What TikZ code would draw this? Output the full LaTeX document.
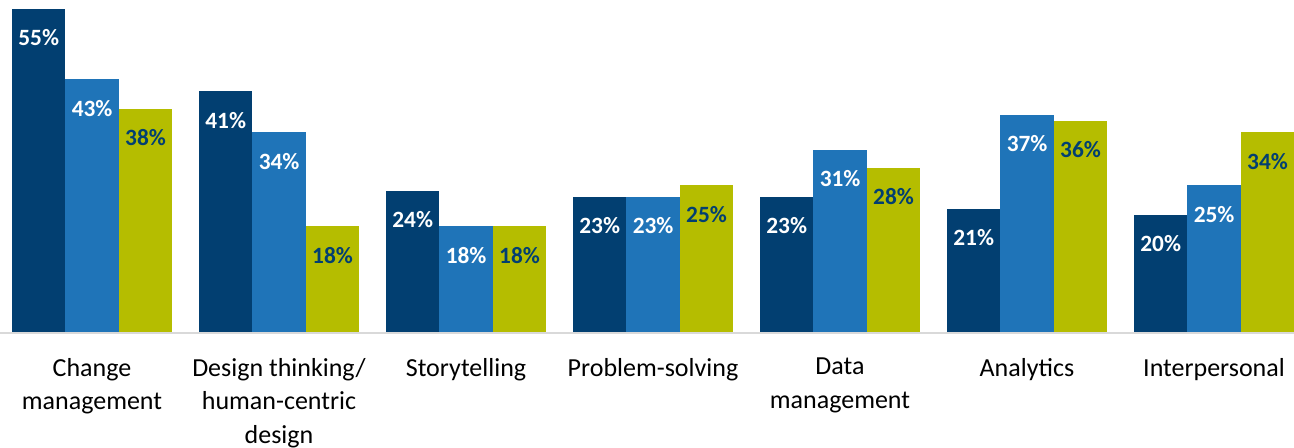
\documentclass[tikz,border=0pt]{standalone}
\usepackage{fontspec}
\setmainfont{Carlito}

\definecolor{navybar}{HTML}{023F71}
\definecolor{bluebar}{HTML}{1F74B8}
\definecolor{greenbar}{HTML}{B5BD00}
\definecolor{axisgray}{HTML}{D9D9D9}

\tikzset{
  vallabel/.style={font=\fontsize{17.5}{20}\selectfont\bfseries, inner sep=0pt},
  catlabel/.style={font=\fontsize{19.5}{25.2}\selectfont, align=center, inner sep=0pt, anchor=north}
}

\begin{document}
\begin{tikzpicture}[x=0.75pt, y=0.75pt]
  \useasboundingbox (0,-116) rectangle (1294,332);

  \draw[axisgray, line width=1.2pt] (0,-1) -- (1294,-1);

  \foreach \g/\a/\b/\c in {0/55/43/38, 1/41/34/18, 2/24/18/18, 3/23/23/25, 4/23/31/28, 5/21/37/36, 6/20/25/34}{
    \pgfmathsetmacro{\xa}{12+187*\g}
    \pgfmathsetmacro{\xb}{\xa+53.4}
    \pgfmathsetmacro{\xc}{\xa+106.8}
		\fill[navybar] (\xa,0) rectangle ++(53.4,\a*5.873);
		\fill[bluebar] (\xb,0) rectangle ++(53.4,\b*5.873);
		\fill[greenbar] (\xc,0) rectangle ++(53.4,\c*5.873);
		\node[vallabel, text=white] (va\g) at (\xa+26.7,\a*5.873-29) {\a\%};
		\node[vallabel, text=white] (vb\g) at (\xb+26.7,\b*5.873-29) {\b\%};
		\node[vallabel, text=navybar] (vc\g) at (\xc+26.7,\c*5.873-29) {\c\%};
  }

	\foreach \g/\name in {0/{Change\\management}, 1/{Design thinking/\\human-centric\\design}, 2/{Storytelling}, 3/{Problem-solving}, 4/{Data\\management}, 5/{Analytics}, 6/{Interpersonal}}{
		\node[catlabel] (cat\g) at (92+187*\g,-26) {\name};
	}
\end{tikzpicture}
\end{document}
